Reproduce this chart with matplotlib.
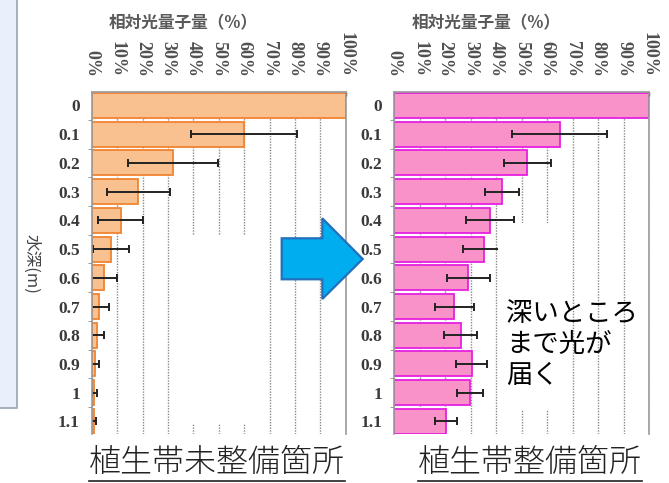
import matplotlib
matplotlib.use('Agg')
import matplotlib.pyplot as plt
import numpy as np
from matplotlib.patches import Rectangle, Polygon
from matplotlib.lines import Line2D

# depth rows (m) and relative photon flux (%)
depths = ['0', '0.1', '0.2', '0.3', '0.4', '0.5', '0.6', '0.7', '0.8', '0.9', '1', '1.1']
pct_ticks = [0, 10, 20, 30, 40, 50, 60, 70, 80, 90, 100]
pct_labels = [f'{p}%' for p in pct_ticks]

# 植生帯未整備箇所
untreated_vals = [100, 60, 32, 18.4, 11.4, 7.5, 4.8, 3.0, 2.0, 1.3, 1.0, 0.8]
untreated_err = [0, 21, 17.7, 12.4, 8.9, 7.0, 5.0, 3.8, 2.8, 1.6, 1.0, 0.9]

# 植生帯整備箇所
treated_vals = [100, 65, 52.2, 42.3, 37.7, 35.2, 29.1, 23.6, 26.1, 30.4, 29.7, 20.3]
treated_err = [0, 18.7, 9.3, 6.5, 9.4, 8.4, 8.3, 7.5, 6.5, 6.0, 5.2, 4.5]

W, H = 669, 483
CJK = ['Noto Sans CJK JP', 'DejaVu Sans']
SERIF = ['Liberation Serif', 'DejaVu Serif']

fig = plt.figure(figsize=(W / 100, H / 100), dpi=100)
fig.patch.set_facecolor('white')


def px(x0, y0, x1, y1):
    'pixel box (top-left origin) -> figure fraction rect'
    return [x0 / W, 1 - y1 / H, (x1 - x0) / W, (y1 - y0) / H]


def draw_panel(rect, vals, errs, face, edge, mask):
    ax = fig.add_axes(rect)
    ax.set_axisbelow(True)
    y = np.arange(len(depths))
    ax.barh(y, vals, height=0.87, color=face, edgecolor=edge, linewidth=1.3, zorder=1)
    ax.errorbar(vals[1:], y[1:], xerr=errs[1:], fmt='none', ecolor='#222222',
                elinewidth=1.4, capsize=3.2, capthick=1.4, zorder=2)
    ax.set_xlim(0, 100)
    ax.set_ylim(11.44, -0.47)
    ax.xaxis.tick_top()
    ax.set_xticks(pct_ticks)
    ax.set_xticklabels(pct_labels, rotation=-90, family=SERIF, fontsize=13,
                       fontweight='bold', color='#505050')
    ax.tick_params(axis='x', direction='in', length=3, width=1, color='#333333', pad=11)
    ax.set_yticks(y)
    ax.set_yticklabels(depths, family=SERIF, fontsize=12.5, fontweight='bold', color='#3a3a3a')
    ax.tick_params(axis='y', length=0, pad=8.5)
    ax.set_yticks(y[:-1] + 0.5, minor=True)
    ax.tick_params(axis='y', which='minor', length=3, color='#888888', direction='out')
    ax.grid(axis='x', color='#8a8a8a', linestyle=(0, (1, 1)), linewidth=1)
    for s in ['top', 'left', 'right']:
        ax.spines[s].set_color('#9a9a9a')
        ax.spines[s].set_linewidth(1.2)
    ax.spines['bottom'].set_visible(False)
    # white patch from the slide that hides part of the grid
    mx0, mx1, my0, my1, mz = mask
    ax.add_patch(Rectangle((mx0, my0), mx1 - mx0, my1 - my0, facecolor='white',
                           edgecolor='none', zorder=mz))
    ax.text(0.36, 1.2, '相対光量子量（%）', transform=ax.transAxes, ha='center', va='center',
            family=CJK, fontsize=12, fontweight='bold', color='#5a5a5a')
    return ax


ax1 = draw_panel(px(91.7, 92, 345.7, 434), untreated_vals, untreated_err,
                 '#f9c190', '#f28430', (35, 64.5, 4.5, 11.1, 0.8))
ax2 = draw_panel(px(394.3, 92, 649, 434), treated_vals, treated_err,
                 '#f992c8', '#e620e0', (40.8, 65, 4.1, 10.6, 3))

# y label
fig.text(31 / W, 1 - 264 / H, '水深(m)', rotation=-90, ha='center', va='center',
         family=CJK, fontsize=12, color='#444444')

# light blue box at the left edge of the slide
fig.patches.append(Rectangle((-1 / W, 1 - 408 / H), 17.5 / W, 410 / H,
                             transform=fig.transFigure, facecolor='#e8f1fb',
                             edgecolor='#9aa3ad', linewidth=1.2, zorder=0))

# blue arrow
arrow_px = [(281.7, 238.3), (322.3, 238.3), (322.3, 218.3), (362.7, 259),
            (322.3, 299), (322.3, 279.3), (281.7, 279.3)]
fig.patches.append(Polygon([(x / W, 1 - y / H) for x, y in arrow_px], closed=True,
                           transform=fig.transFigure, facecolor='#00aeef',
                           edgecolor='#2270bd', linewidth=1.6, zorder=5))

# note text
fig.text(506 / W, 1 - 300 / H, '深いところ\nまで光が\n届く', ha='left', va='top',
         family=CJK, fontsize=19, color='black', linespacing=1.2, zorder=6)

# underlined captions
captions = []
for cx, label in [(216.5, '植生帯未整備箇所'), (530, '植生帯整備箇所')]:
    t = fig.text(cx / W, 1 - 463 / H, label, ha='center', va='center',
                 family=CJK, fontsize=23, fontweight='light', color='#222222')
    captions.append(t)

fig.canvas.draw()
r = fig.canvas.get_renderer()
for t in captions:
    bb = t.get_window_extent(r)
    yl = (bb.y0 - 1) / fig.bbox.height
    fig.lines.append(Line2D([bb.x0 / fig.bbox.width, bb.x1 / fig.bbox.width], [yl, yl],
                            transform=fig.transFigure, color='#222222', linewidth=1.2))

fig.savefig('out.png', dpi=100)
